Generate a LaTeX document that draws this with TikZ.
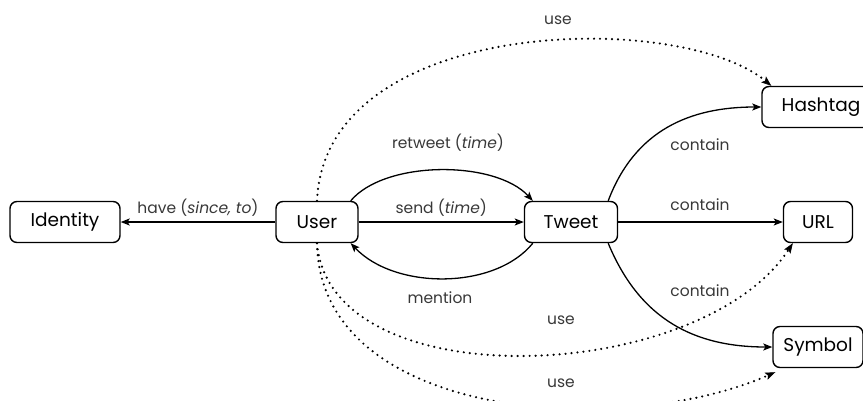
\documentclass[tikz,border=0pt]{standalone}
\usepackage{fontspec}
\setmainfont{Poppins}
\usetikzlibrary{arrows.meta}
\begin{document}
\begin{tikzpicture}[x=1pt,y=-1pt,
  entity/.style={draw,line width=1.4pt,rounded corners=7pt,minimum height=41pt,inner sep=0pt,font=\fontsize{18.5}{22}\selectfont},
  lbl/.style={font=\fontsize{15.5}{18}\selectfont,text=black!78},
  rel/.style={line width=1.3pt,-{Stealth[length=9pt,width=7pt,inset=2pt]}},
  usel/.style={line width=2.4pt,line cap=round,dash pattern=on 0pt off 6pt,-{Stealth[length=10pt,width=7.5pt,inset=2pt,line width=0.6pt]}}]
\useasboundingbox (0,0) rectangle (863,400);
\node[entity,minimum width=110pt] (identity) at (65,222) {Identity};
\node[entity,minimum width=82pt] (user) at (317,222) {User};
\node[entity,minimum width=93pt] (tweet) at (571,222) {Tweet};
\node[entity,minimum width=118pt] (hashtag) at (821,107) {Hashtag};
\node[entity,minimum width=69pt] (url) at (818,222) {URL};
\node[entity,minimum width=90pt] (symbol) at (818,347) {Symbol};

\coordinate (ut) at ([xshift=0pt]user.north);
\coordinate (ub) at ([xshift=0pt]user.south);

\draw[rel] (user) -- node[lbl,above=2pt] {have (\textit{since, to})} (identity);
\draw[rel] (user) -- node[lbl,above=2pt] {send (\textit{time})} (tweet);
\draw[rel] ([xshift=-8pt]user.north east) .. controls (385,160) and (495,160) .. ([xshift=9pt]tweet.north west);
\draw[rel] ([xshift=9pt]tweet.south west) .. controls (495,290) and (395,290) .. ([xshift=-8pt]user.south east);
\draw[rel] ([xshift=-10pt]tweet.north east) .. controls (635,130) and (690,107) .. (hashtag.west);
\draw[rel] (tweet) -- (url);
\draw[rel] ([xshift=-10pt]tweet.south east) .. controls (640,320) and (695,347) .. (symbol.west);

\draw[usel] (ut) .. controls (325,15) and (680,10) .. ([xshift=10pt]hashtag.north west);
\draw[usel] (ub) .. controls (330,400) and (700,385) .. ([xshift=10pt]url.south west);
\draw[usel] (ub) .. controls (320,420) and (620,440) .. ([xshift=3pt,yshift=-4pt]symbol.south west);

\node[lbl] (l1) at (448,143) {retweet (\textit{time})};
\node[lbl] (l2) at (440,298) {mention};
\node[lbl] (l3) at (558,20) {use};
\node[lbl] (l4) at (561,320) {use};
\node[lbl] (l5) at (561,383) {use};
\node[lbl] (l6) at (700,145) {contain};
\node[lbl] (l7) at (700,205) {contain};
\node[lbl] (l8) at (700,291) {contain};
\end{tikzpicture}
\end{document}
